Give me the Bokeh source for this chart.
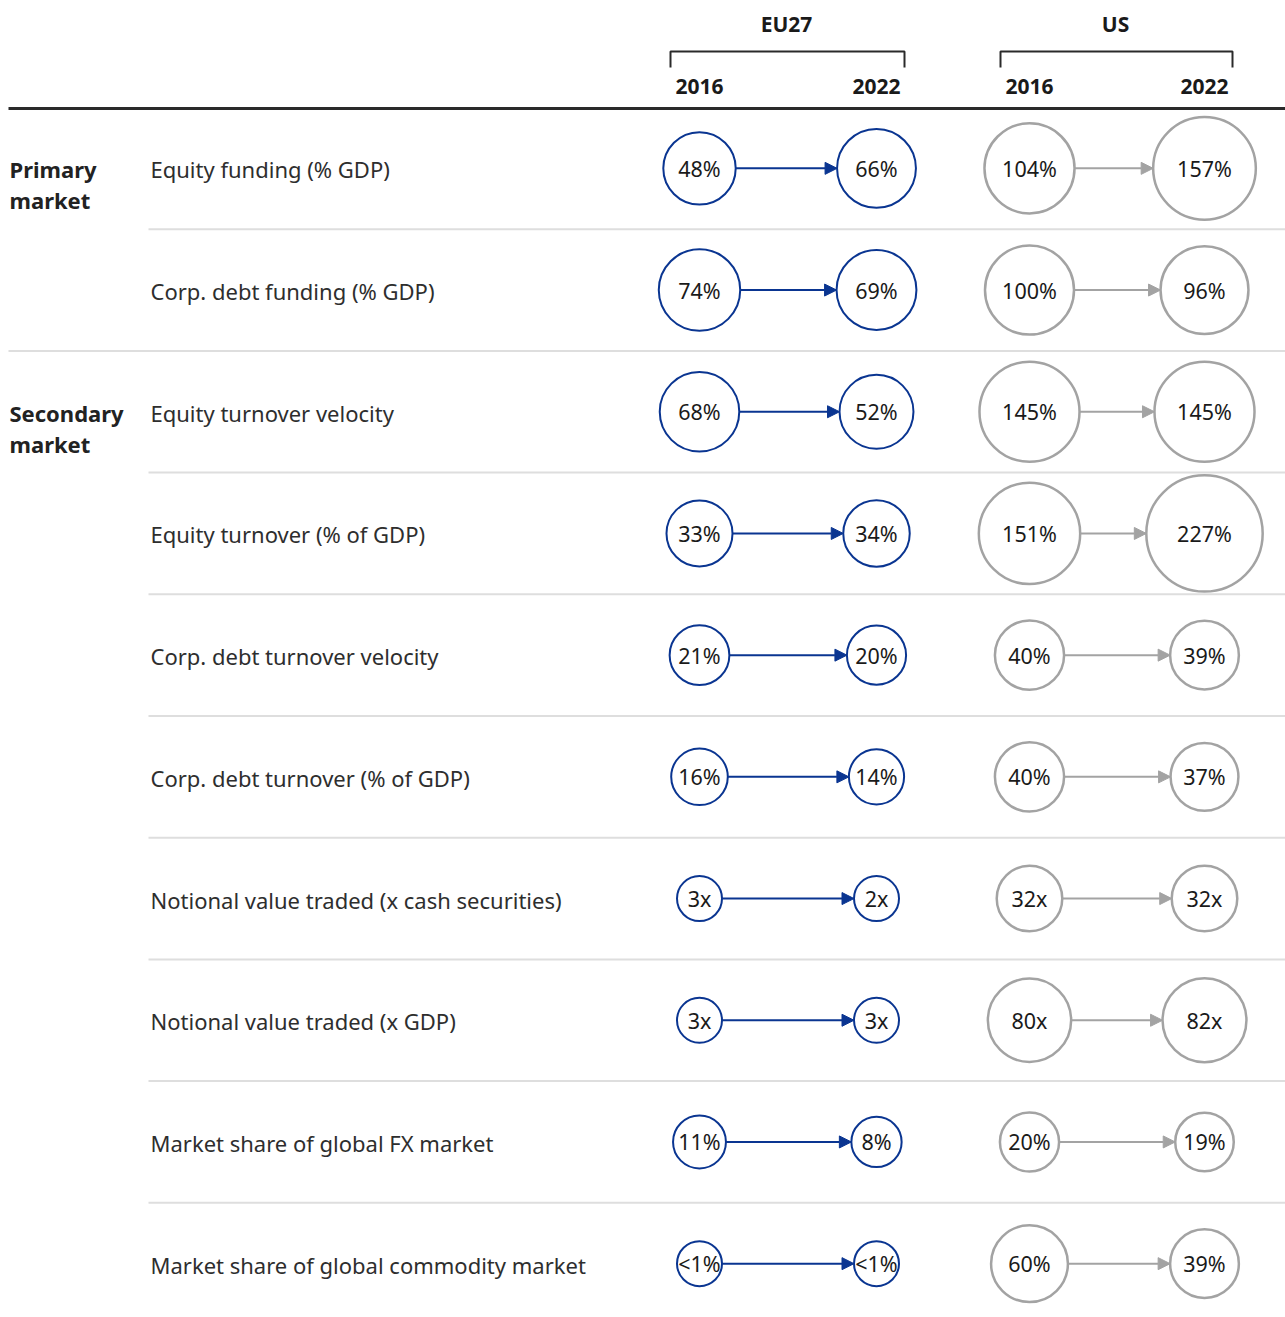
import math
from bokeh.plotting import figure
from bokeh.models import Range1d, ColumnDataSource, Arrow, NormalHead
from bokeh.core.properties import value
from bokeh.embed import file_html
from bokeh.resources import INLINE

# ---------------- data ----------------
metrics = [
    "Equity funding (% GDP)",
    "Corp. debt funding (% GDP)",
    "Equity turnover velocity",
    "Equity turnover (% of GDP)",
    "Corp. debt turnover velocity",
    "Corp. debt turnover (% of GDP)",
    "Notional value traded (x cash securities)",
    "Notional value traded (x GDP)",
    "Market share of global FX market",
    "Market share of global commodity market",
]
sections = ["Primary market", "Secondary market"]
section_first_row = [0, 2]
regions = ["EU27", "US"]
years = ["2016", "2022"]

eu_2016 = [48, 74, 68, 33, 21, 16, 3, 3, 11, 0.5]
eu_2022 = [66, 69, 52, 34, 20, 14, 2, 3, 8, 0.5]
us_2016 = [104, 100, 145, 151, 40, 40, 32, 80, 20, 60]
us_2022 = [157, 96, 145, 227, 39, 37, 32, 82, 19, 39]

eu_2016_lbl = ["48%", "74%", "68%", "33%", "21%", "16%", "3x", "3x", "11%", "<1%"]
eu_2022_lbl = ["66%", "69%", "52%", "34%", "20%", "14%", "2x", "3x", "8%", "<1%"]
us_2016_lbl = ["104%", "100%", "145%", "151%", "40%", "40%", "32x", "80x", "20%", "60%"]
us_2022_lbl = ["157%", "96%", "145%", "227%", "39%", "37%", "32x", "82x", "19%", "39%"]

# ---------------- layout / style ----------------
W, H = 1285, 1317
FONT = "Noto Sans"
EU_COL = "#0a3591"
US_COL = "#a3a3a3"
TXT = "#1a1a1a"
LBL = "#2e2e2e"

TOP_RULE = 108
ROW_H = 121.7
n = len(metrics)
row_y = [TOP_RULE + (i + 0.5) * ROW_H - 1 for i in range(n)]
sep_y = [TOP_RULE + (i + 1) * ROW_H - 1 for i in range(n - 1)]

col_x = {"EU27": (699, 876), "US": (1029, 1204)}
label_x = 150
section_x = 9


def radius(v):
    return max(22.5, 17.5 + 2.7 * math.sqrt(v))


p = figure(width=W, height=H, x_range=Range1d(0, W), y_range=Range1d(H, 0),
           output_backend="svg", toolbar_location=None, min_border=0)
p.axis.visible = False
p.grid.visible = False
p.outline_line_color = None
p.background_fill_color = "white"
p.border_fill_color = "white"

# top rule
p.segment(x0=[8], y0=[TOP_RULE], x1=[W], y1=[TOP_RULE], line_color="#2a2a2a", line_width=3)

# separators
sep_x0 = []
for i, y in enumerate(sep_y):
    sep_x0.append(8 if (i + 1) in section_first_row else label_x - 2)
p.segment(x0=sep_x0, y0=sep_y, x1=[W] * len(sep_y), y1=sep_y, line_color="#dedede", line_width=2)

# headers + brackets
for reg in regions:
    xa, xb = col_x[reg]
    bl, br = xa - 29, xb + 28
    p.text(x=[(bl + br) / 2 - 1], y=[23], text=[reg], text_align="center", text_baseline="middle",
           text_font=value(FONT), text_font_size="21px", text_font_style="bold", text_color=TXT)
    p.line(x=[bl, bl, br, br], y=[67, 51, 51, 67], line_color="#2a2a2a", line_width=2)
    p.text(x=[xa, xb], y=[86, 86], text=years, text_align="center", text_baseline="middle",
           text_font=value(FONT), text_font_size="21px", text_font_style="bold", text_color=TXT)

# section labels
for s, r0 in zip(sections, section_first_row):
    words = s.split(" ")
    p.text(x=[section_x] * len(words), y=[row_y[r0] + 1 + k * 31 for k in range(len(words))], text=words,
           text_align="left", text_baseline="middle", text_font=value(FONT), text_font_size="22px",
           text_font_style="bold", text_color="#222222")

# metric labels
p.text(x=[label_x] * n, y=[y + 1 for y in row_y], text=metrics, text_align="left", text_baseline="middle",
       text_font=value(FONT), text_font_size="22px", text_color=LBL)

# circles, arrows, values
for reg, a_vals, b_vals, a_lbl, b_lbl, col, lw in [
    ("EU27", eu_2016, eu_2022, eu_2016_lbl, eu_2022_lbl, EU_COL, 2),
    ("US", us_2016, us_2022, us_2016_lbl, us_2022_lbl, US_COL, 2.5),
]:
    xa, xb = col_x[reg]
    ra = [radius(v) for v in a_vals]
    rb = [radius(v) for v in b_vals]
    src = ColumnDataSource(dict(
        xs=[xa + r for r in ra], xe=[xb - r for r in rb], y=row_y,
    ))
    p.add_layout(Arrow(source=src, x_start="xs", y_start="y", x_end="xe", y_end="y",
                       line_color=col, line_width=2,
                       end=NormalHead(size=12, fill_color=col, line_color=col, line_width=1)))
    p.circle(x=[xa] * n, y=row_y, radius=ra, radius_units="screen", fill_color="white",
             line_color=col, line_width=lw)
    p.circle(x=[xb] * n, y=row_y, radius=rb, radius_units="screen", fill_color="white",
             line_color=col, line_width=lw)
    p.text(x=[xa] * n, y=row_y, text=a_lbl, text_align="center", text_baseline="middle",
           text_font=value(FONT), text_font_size="21.5px", text_color=TXT)
    p.text(x=[xb] * n, y=row_y, text=b_lbl, text_align="center", text_baseline="middle",
           text_font=value(FONT), text_font_size="21.5px", text_color=TXT)

open("out.html", "w").write(file_html(p, INLINE))
